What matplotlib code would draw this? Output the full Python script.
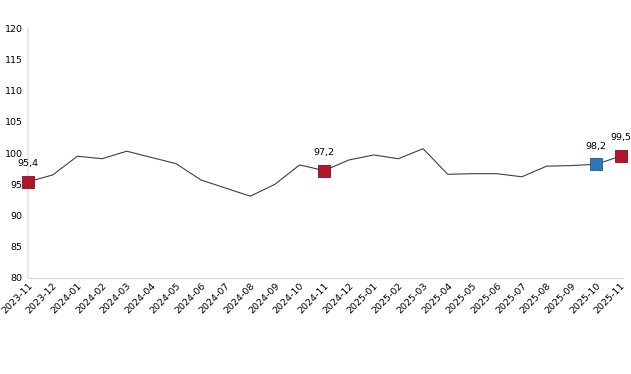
import matplotlib
matplotlib.use('Agg')
import matplotlib.pyplot as plt

months = ['2023-11', '2023-12', '2024-01', '2024-02', '2024-03', '2024-04', '2024-05',
          '2024-06', '2024-07', '2024-08', '2024-09', '2024-10', '2024-11', '2024-12',
          '2025-01', '2025-02', '2025-03', '2025-04', '2025-05', '2025-06', '2025-07',
          '2025-08', '2025-09', '2025-10', '2025-11']
values = [95.4, 96.5, 99.5, 99.1, 100.3, 99.3, 98.3, 95.7, 94.4, 93.1, 95.0, 98.1,
          97.2, 98.9, 99.7, 99.1, 100.7, 96.6, 96.7, 96.7, 96.2, 97.9, 98.0, 98.2, 99.5]
red_idx = [0, 12, 24]
blue_idx = [23]

fig = plt.figure(figsize=(6.31, 3.74), dpi=100)
ax = fig.add_axes([0.0444, 0.2567, 0.943, 0.668])
x = list(range(len(months)))
ax.plot(x, values, color='#404040', lw=0.8, zorder=2, clip_on=False)

for i in red_idx:
    ax.plot(i, values[i], 's', ms=8, color='#b3152b', mec='#7a1020', mew=0.6, zorder=3, clip_on=False)
    ax.text(i, values[i] + 2.2, f'{values[i]:.1f}'.replace('.', ','),
            ha='center', va='bottom', fontsize=6.8)
for i in blue_idx:
    ax.plot(i, values[i], 's', ms=8, color='#2f78b5', mec='#1f5a8a', mew=0.6, zorder=3, clip_on=False)
    ax.text(i, values[i] + 2.2, f'{values[i]:.1f}'.replace('.', ','),
            ha='center', va='bottom', fontsize=6.8)

ax.set_xlim(0, 24.1)
ax.set_ylim(80, 120)
ax.set_yticks(range(80, 121, 5))
ax.set_xticks(x)
ax.set_xticklabels(months, rotation=45, ha='right', rotation_mode='anchor', fontsize=6.8)
ax.tick_params(axis='y', labelsize=6.8, length=0, pad=4)
ax.tick_params(axis='x', length=0, pad=2)
for s in ['top', 'right']:
    ax.spines[s].set_visible(False)
ax.spines['left'].set_color('#e6e6e6')
ax.spines['bottom'].set_color('#d9d9d9')
ax.spines['left'].set_linewidth(1.2)

fig.savefig('out.png', dpi=100)
